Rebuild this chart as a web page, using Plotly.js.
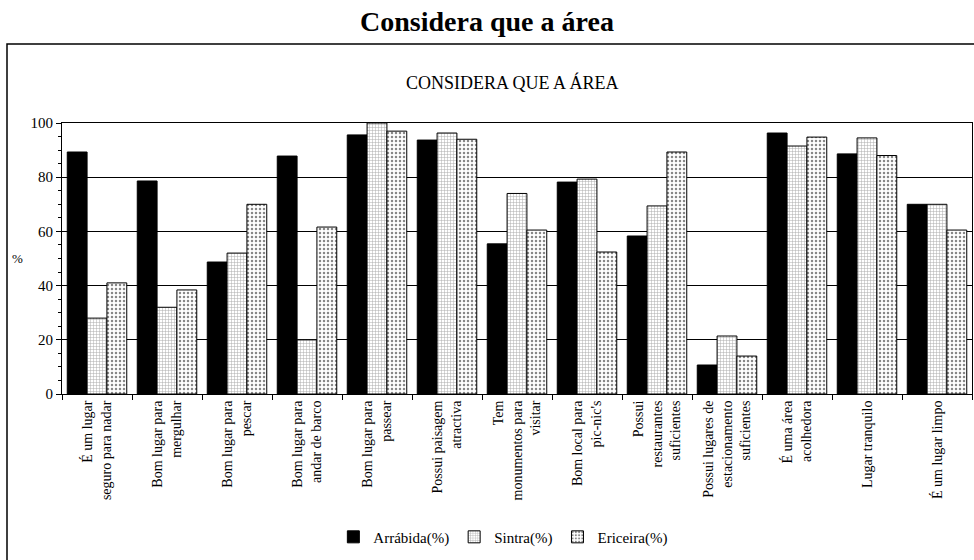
<!DOCTYPE html>
<html>
<head>
<meta charset="utf-8">
<script src="https://cdn.plot.ly/plotly-3.0.1.min.js"></script>
<style>html,body{margin:0;padding:0;background:#fff;}#chart{width:974px;height:560px;}</style>
</head>
<body>
<div id="chart"></div>
<script>
const categories = [
  "É um lugar<br>seguro para nadar",
  "Bom lugar para<br>mergulhar",
  "Bom lugar para<br>pescar",
  "Bom lugar para<br>andar de barco",
  "Bom lugar para<br>passear",
  "Possui paisagem<br>atractiva",
  "Tem<br>monumentos para<br>visitar",
  "Bom local para<br>pic-nic's",
  "Possui<br>restaurantes<br>suficientes",
  "Possui lugares de<br>estacionamento<br>suficientes",
  "É uma área<br>acolhedora",
  "Lugar tranquilo",
  "É um lugar limpo"
];
const arrabida = [89.3, 78.6, 48.7, 87.8, 95.6, 93.7, 55.4, 78.2, 58.3, 10.7, 96.3, 88.6, 70.0];
const sintra   = [28.0, 32.0, 52.0, 20.0, 100.0, 96.3, 74.0, 79.3, 69.4, 21.4, 91.5, 94.5, 70.0];
const ericeira = [41.0, 38.4, 70.0, 61.6, 97.0, 94.0, 60.5, 52.4, 89.3, 14.0, 94.8, 88.0, 60.5];
const seriesNames = ["Arrábida(%)", "Sintra(%)", "Ericeira(%)"];

const serif = "'Liberation Serif', 'Times New Roman', serif";
const traces = [
  {type:'bar', name:seriesNames[0], x:categories, y:arrabida,
   marker:{color:'#000', line:{color:'#000', width:1}}},
  {type:'bar', name:seriesNames[1], x:categories, y:sintra,
   marker:{color:'#fff', line:{color:'#000', width:1},
     pattern:{shape:'+', size:3, solidity:0.3, fgcolor:'#aaaaaa', bgcolor:'#fff'}}},
  {type:'bar', name:seriesNames[2], x:categories, y:ericeira,
   marker:{color:'#fff', line:{color:'#000', width:1},
     pattern:{shape:'.', size:4, solidity:0.3, fgcolor:'#888', bgcolor:'#fff'}}}
];

const layout = {
  width:974, height:560,
  paper_bgcolor:'#fff', plot_bgcolor:'#fff',
  margin:{l:62, r:2, t:123, b:166},
  font:{family:serif, color:'#000', size:14},
  title:{text:'<b>Considera que a área</b>', font:{family:serif, size:28, color:'#000'},
         x:0.5, xref:'container', xanchor:'center', y:0.963, yanchor:'middle'},
  bargap:0.15, bargroupgap:0,
  showlegend:true,
  legend:{orientation:'h', x:0.485, xanchor:'center', y:-0.528, yanchor:'middle',
          font:{family:serif, size:15}, traceorder:'normal'},
  xaxis:{type:'category', tickson:'boundaries', ticks:'outside', ticklen:5, tickcolor:'#000',
         tickangle:-90, showline:true, linecolor:'#000', linewidth:1, mirror:true,
         tickfont:{family:serif, size:14}, showgrid:false},
  yaxis:{range:[0,100], dtick:20, ticks:'outside', ticklen:5, tickcolor:'#000',
         showline:true, linecolor:'#000', linewidth:1, mirror:true,
         showgrid:true, gridcolor:'#000', gridwidth:1, zeroline:false,
         tickfont:{family:serif, size:15},
         minor:{dtick:5, ticks:'outside', ticklen:3, tickcolor:'#000', showgrid:false}},
  annotations:[
    {text:'CONSIDERA QUE A ÁREA', xref:'paper', yref:'paper', x:(512-62)/910, y:(394-82)/271,
     xanchor:'center', yanchor:'middle', showarrow:false, font:{family:serif, size:18}},
    {text:'%', xref:'paper', yref:'paper', x:(17-62)/910, y:(394-258)/271,
     xanchor:'center', yanchor:'middle', showarrow:false, font:{family:serif, size:13}}
  ],
  shapes:[
    {type:'rect', xref:'paper', yref:'paper', x0:(7-62)/910, x1:1.01, y0:-0.7, y1:(394-44)/271,
     line:{color:'#000', width:1.5}, fillcolor:'rgba(0,0,0,0)', layer:'above'}
  ]
};
Plotly.newPlot('chart', traces, layout, {displayModeBar:false, staticPlot:true});
</script>
</body>
</html>
